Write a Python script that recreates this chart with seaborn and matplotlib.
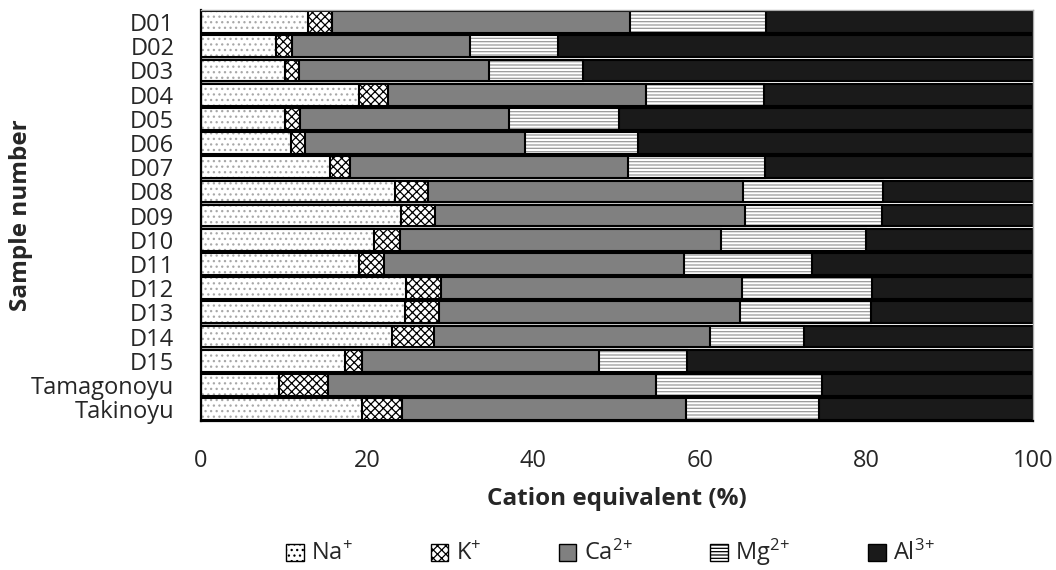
import matplotlib
matplotlib.use("Agg")
import matplotlib.pyplot as plt
import seaborn as sns
import numpy as np
import pandas as pd
from matplotlib.patches import Patch

samples = ["D01", "D02", "D03", "D04", "D05", "D06", "D07", "D08", "D09", "D10",
           "D11", "D12", "D13", "D14", "D15", "Tamagonoyu", "Takinoyu"]
na = [12.9, 9.0, 10.1, 19.0, 10.1, 10.8, 15.6, 23.3, 24.1, 20.8,
      19.0, 24.7, 24.5, 23.0, 17.4, 9.4, 19.4]
k = [2.9, 2.0, 1.7, 3.5, 1.9, 1.8, 2.3, 4.0, 4.1, 3.1,
     3.0, 4.2, 4.1, 5.0, 2.0, 5.9, 4.8]
ca = [35.8, 21.4, 22.8, 31.0, 25.1, 26.4, 33.5, 37.9, 37.2, 38.6,
      36.1, 36.1, 36.2, 33.2, 28.5, 39.4, 34.1]
mg = [16.3, 10.6, 11.4, 14.2, 13.2, 13.5, 16.4, 16.8, 16.5, 17.5,
      15.4, 15.7, 15.7, 11.3, 10.6, 20.0, 16.0]
al = [100 - (a + b + c + d) for a, b, c, d in zip(na, k, ca, mg)]
legend_labels = ["Na$^{+}$", "K$^{+}$", r"Ca$^{2\!+}$", r"Mg$^{2\!+}$", r"Al$^{3\!+}$"]
xticks = [0, 20, 40, 60, 80, 100]

sns.set_theme(style="white")
plt.rcParams['font.family'] = ['Open Sans', 'DejaVu Sans']
plt.rcParams['mathtext.default'] = 'regular'
plt.rcParams['hatch.linewidth'] = 0.9

df = pd.DataFrame({"sample": samples, "Na": na, "K": k, "Ca": ca, "Mg": mg, "Al": al})
order_cols = ["Na", "K", "Ca", "Mg", "Al"]
cum = df[order_cols].cumsum(axis=1)

styles = {
    "Na": dict(face="white", hatch="...", hcol="#a8a8a8"),
    "K": dict(face="white", hatch="xxxx", hcol="black"),
    "Ca": dict(face="#808080", hatch=None, hcol="#808080"),
    "Mg": dict(face="white", hatch="-----", hcol="#9a9a9a"),
    "Al": dict(face="#1a1a1a", hatch=None, hcol="#1a1a1a"),
}

fig, ax = plt.subplots(figsize=(10.56, 5.7), dpi=100)
fig.subplots_adjust(left=0.190, right=0.978, top=0.9825, bottom=0.261)

for col in reversed(order_cols):
    st = styles[col]
    sns.barplot(x=cum[col], y=df["sample"], orient="h", color=st["face"],
                edgecolor=st["hcol"], linewidth=0, hatch=st["hatch"],
                width=0.9, ax=ax, saturation=1)
    sns.barplot(x=cum[col], y=df["sample"], orient="h", fill=False,
                edgecolor="black", linewidth=1.5, width=0.9, ax=ax)

ax.set_xlim(0, 100)
ax.set_xticks(xticks)
ax.set_xticklabels([str(t) for t in xticks], fontsize=17)
ax.tick_params(axis="y", labelsize=17, length=0, pad=19)
ax.tick_params(axis="x", length=0, pad=20)
ax.set_xlabel("Cation equivalent (%)", fontsize=17.5, fontweight="bold", labelpad=10)
ax.set_ylabel("Sample number", fontsize=17.5, fontweight="bold")
ax.yaxis.set_label_coords(-0.202, 0.5)

for s in ["top", "right"]:
    ax.spines[s].set_color("#aaaaaa")
    ax.spines[s].set_linewidth(1)
for s in ["left", "bottom"]:
    ax.spines[s].set_color("black")
    ax.spines[s].set_linewidth(1.6)

handles = [Patch(facecolor=styles[c]["face"], edgecolor="black",
                 hatch=styles[c]["hatch"], linewidth=1) for c in order_cols]
fig.legend(handles, legend_labels, loc="center", bbox_to_anchor=(0.578, 0.03),
           ncol=5, frameon=False, fontsize=17, handlelength=0.75,
           handleheight=0.75, handletextpad=0.3, columnspacing=3.3)

fig.savefig("out.png", dpi=100)
